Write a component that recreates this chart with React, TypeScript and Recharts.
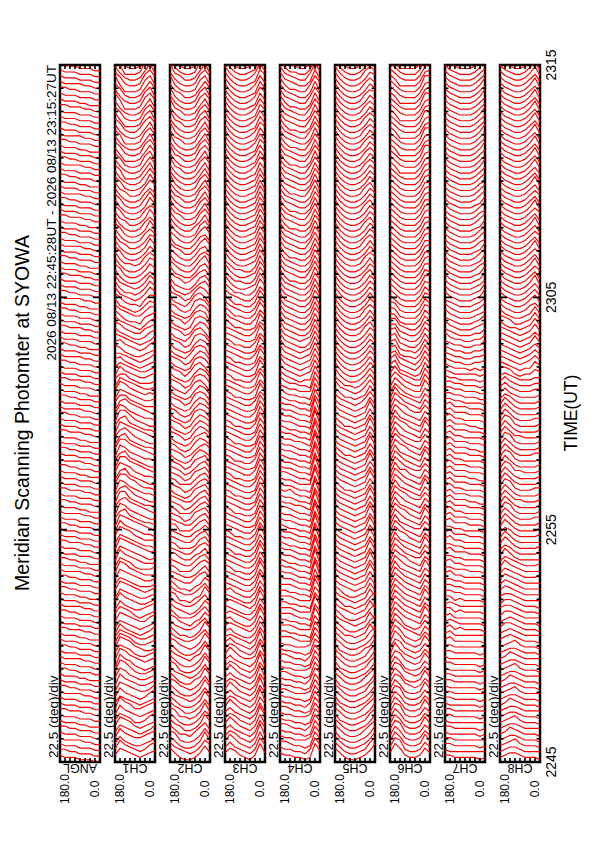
import React from 'react';
import { LineChart, Line, XAxis, YAxis, ReferenceArea } from 'recharts';

// ---------- texts ----------
const TITLE = 'Meridian Scanning Photomter at SYOWA';
const PERIOD = '2026 08/13 22:45:28UT - 2026 08/13 23:15:27UT';
const TIME_AXIS_TITLE = 'TIME(UT)';
const SCALE_LABEL = '22.5 (deg)/div';
const CHANNELS = ['ANGL', 'CH1', 'CH2', 'CH3', 'CH4', 'CH5', 'CH6', 'CH7', 'CH8'];
const ANGLE_LABELS = ['180.0', '0.0'];

// ---------- axes ----------
const TIME_LABELS = ['2245', '2255', '2305', '2315'];
const TIME_LABEL_MIN = [0, 10, 20, 30]; // minutes after 22:45
const TIME_MINOR_MIN = [1, 2, 3, 4, 5, 6, 7, 8, 9, 11, 12, 13, 14, 15, 16, 17, 18, 19, 21, 22, 23, 24, 25, 26, 27, 28, 29];
const TIME_MAJOR_MIN = [10, 20];
const ANGLE_TICKS = [22.5, 45, 67.5, 90, 112.5, 135, 157.5];
const SCAN_ANGLES = [180, 157.5, 135, 112.5, 90, 67.5, 45, 22.5, 0];
const SCAN_STEP_MIN = 0.25; // one scan every 15 s

// ---------- scans: each word = relative intensity at SCAN_ANGLES (180 -> 0), earliest first ----------
const SCANS_ANGL = `
322211100 332211100 322211100 322221100 322211100 332211100 322211000 322211100 332221100 322211100
322211100 322221100 332211100 322211100 322211000 332211100 322211100 322221100 322211100 332211100
322211100 322211000 332221100 322211100 322211100 332211100 322221100 322211100 322211000 332211100
322211100 332211100 322221100 322211100 332211000 322211100 322211100 332221100 322211100 322211100
332211100 322211100 322221100 322211000 332211100 322211100 332221100 322211100 322211100 322211000
332211100 322221100 322211100 332211100 322211100 322211000 332221100 322211100 322211100 332211100
322221100 322211100 332211100 322211000 322211100 332221100 322211100 322211100 332211100 322221100
322211100 332211000 322211100 322211100 332221100 322211100 322211100 332211100 322211000 322221100
332211100 322211100 322211100 332221100 322211100 322211000 332211100 322211100 322221100 322211100
332211100 322211100 322211000 332221100 322211100 322211100 332211100 322221100 322211100 322211000
332211100 322211100 322221100 332211100 322211100 322211000 332211100 322221100 322211100 332211100
322211100 322211100 332221100 322211000 322211100 332211100 322221100 322211100 322211100 332211100
`;

const SCANS_CH1 = `
365432345 375432356 364322345 375433456 365432346 376532345 365422356 375432345 386533456 365432345
375432356 376543346 386543345 487543345 498643345 397643234 498654345 587643345 498754334 487643345
476543345 375432346 365432345 376543356 476532345 375433456 486543345 376543345 487654345 476543334
487654334 498654333 487643334 497654333 487654323 498765433 487654332 598754333 497654332 498765432
589654332 498654322 589765432 499654332 589754322 498654332 599764332 489654322 598754332 499765432
589654322 498654332 599765432 489654332 589754322 498765432 589654332 499754322 598654332 489765432
588654333 487654334 598654343 487654334 577543334 486543345 576543345 675432345 665432346 764322345
675432356 765432346 754322356 764322456 754321356 753221456 754322466 743212465 753221466 743212475
742212475 743212475 742112465 752112475 742112476 742212575 752112475 742112485 743112476 742112575
752112485 742112575 743112485 752112576 742112485 752112585 742112575 743112586 752112485 742112585
751112584 742112585 752112684 741112585 752112685 742112584 751112685 742112584 752113685 741112684
752112685 742112584 851112685 742112684 752112585 841112684 752112685 742112584 851112685 742112684
`;

const SCANS_CH2 = `
642112474 643212475 642112484 652112474 642213574 643112485 642112475 652212484 643112474 642112485
643212474 642112485 653212474 642113485 643212474 652112485 642112474 643213485 642112474 653212485
643223574 642212485 643223574 653213475 642223574 643212475 643223574 652213485 643223574 642213475
543224674 543223574 542224675 543224674 553224574 543224675 542223674 543224674 543224575 552224674
543224674 543125674 542224675 543124674 543224674 532125674 543124675 542224674 543125674 543124674
543125674 532125764 543124675 542125764 532125674 543125764 532125764 543125764 532126763 542125764
532125763 543126763 532125763 532136752 543126763 532125763 543136752 532126763 543125763 532136762
532125763 543126763 532136752 543125763 532126763 543136762 532125763 542126763 532136752 543125763
632124674 632113674 643124674 632113674 642113684 632113675 642113674 643113685 632113674 642113685
742112685 742113584 742112685 743112584 742112685 742112584 743112685 742112584 842112685 742112584
742112584 843112685 742112584 843112685 742112685 842112584 743112685 842112584 742112685 843112684
742112685 843112584 742112685 842112684 743112585 842112684 742112685 843112584 742112685 842112684
`;

const SCANS_CH3 = `
465321384 464321385 475321384 465321394 464321385 475321384 465321395 464321384 475321385 465321394
464321385 475321394 465321385 464321394 475321385 465321394 464321385 475322394 465321385 464321394
454321385 453211385 454321385 453211395 454321385 543211385 454321395 543211385 453211385 543211395
543211385 543211395 542211385 543211385 543211395 542211385 543211385 543211395 542211385 543211385
543211285 543211385 542211285 543211385 543211285 542211385 543211285 543211385 542211285 543211385
543211285 542211385 543211285 543211385 542211285 543211385 543211285 542211385 543211285 543211385
543211285 543211375 542211285 543211375 543211285 542211375 543211285 543211375 542211285 543211375
543211285 542211375 543211285 543211375 642211285 643211375 642211385 643211375 642211385 643211375
642211385 742112385 642211385 742112385 642211384 742112385 742112384 742112385 742112384 742112385
742112385 742112384 742112385 742112384 742112385 742112384 742112385 742112384 742112385 742112384
742112385 742112486 742112385 742112485 742112386 742112485 742112385 742112486 742112385 742112485
742112386 742112485 742112385 742112486 742112385 742112485 742112386 742112485 742112385 742112486
`;

const SCANS_CH4 = `
433221285 433221385 443221285 433222385 433221285 443221385 433221286 433222385 443221285 433221385
433221285 443222385 433221285 433221386 443221285 433222385 433221285 443221385 433221286 433222385
444322285 443322185 444322285 443322195 444322185 444322295 443322185 444322285 443322195 444322185
544322183 544322193 544322183 543322193 544322183 544322193 543322183 544322193 544322183 543322193
544322183 544322193 554322183 544332193 544322183 545322193 544322183 544322293 554322183 544322193
544322183 543322193 544322183 544322193 544332183 544322193 543322183 544322193 544322183 544322193
544322184 543322184 643322184 543322284 643322184 643212284 643212384 743212384 643212384 743212384
743212384 743211384 743212384 743211384 743211384 743211385 743211384 743211384 743211385 743211384
743211384 743211385 742211384 743211484 743211384 743211385 742211384 743211384 743211484 743211385
743211384 742211385 743211384 743211484 742211384 743211385 743211384 742211484 743211384 743211385
743211384 743211485 742211384 743211485 743211384 742211485 743211384 743211485 742211384 743211485
743211384 743211485 742211384 743211485 743211384 742211485 743211384 743211485 742211384 743211485
`;

const SCANS_CH5 = `
642112358 642112368 642112358 632112358 642112468 642112358 632112368 642112358 642112468 632112358
642112358 642112368 632112358 642112468 642112358 632112368 642112358 642112368 632112458 642112358
642112368 642212374 642112368 643212374 642112368 643212374 642212368 643212374 642112374 643212374
643212374 643212384 643212374 643212384 643212374 643212384 643212374 643212384 643212374 643212384
643212374 643212384 643212374 643212374 643212384 643212374 642212374 643212384 643212374 643212374
643212384 643212374 642212374 643212384 643212374 643212374 643212384 642212374 643212374 643212384
643212374 643212474 642212374 743212474 642212474 742112474 742112475 742112474 742112475 742112474
742112475 742112474 742112475 742112574 742112475 742112474 742112575 742112475 742112474 742112475
742112475 742112475 742112574 742112475 742112474 742112575 742112475 742112474 742112575 742112475
742112475 742112574 742112475 742112475 742112574 742112475 742112475 742112574 742112475 742112475
742112475 742112575 742112475 742112575 742112475 742112575 742112475 742112575 742112475 742112575
742112475 742112575 742112475 742112576 742112475 742112575 742112476 742112575 742112475 742112575
`;

const SCANS_CH6 = `
486322364 487322364 486322374 486322364 487322364 486322374 486322364 487322364 486322374 486322364
487322364 486322374 487432364 486322374 487432364 486322364 487432374 496432364 487432364 497432374
497432364 497543264 497432364 497543264 497543274 497543264 497543264 497543274 497543264 497543264
497543264 496543264 497543274 497643264 497543364 497543264 496543274 497643264 497543264 496543364
497543264 497643274 496543264 497543264 497643364 496543264 497543274 497543264 496643264 497543364
497543264 496543274 497643264 497543264 496543364 497543264 497643274 496543264 497543264 497643364
497543264 496543264 486432264 486432274 586432274 585432274 684321274 684321374 674321374 673221374
673221374 673211374 673211375 663211375 663211375 652111375 652111376 652111375 642111376 642111375
642111376 642111377 642111376 642111377 642111378 642111377 642111378 642111377 642111378 642111377
642111378 642111377 642111378 642111378 642111377 642111378 642111378 642111377 642111378 642111378
642111378 641111378 642111378 642111388 641111378 642111378 642111388 641111378 642111378 642111388
641111378 642111378 642111388 641111378 642111378 642111388 641111378 642111378 642111388 641111378
`;

const SCANS_CH7 = `
332222212 322222222 332222212 332222222 322222212 332222212 322222222 332222212 332222222 322222212
332222212 332222222 322222212 332222212 332222222 322222212 332222212 322222222 332222212 332222222
342222221 342222222 342322221 343222221 342222221 442322221 343222222 442322221 443322221 443322221
443322221 453322221 443332221 453322221 443322221 453332221 443322221 453322221 453332221 443322221
453332221 453332221 453322221 453332221 453332211 453332221 453322221 453332221 453332211 453332221
453332221 453322221 453332221 453332211 453332221 453322221 453332221 453332211 453322221 453332221
453332221 443322221 443322211 443322211 443322212 433222212 432222212 432221212 432211223 432211223
432211223 432211224 532211224 432111224 532111234 432111235 532111234 532111235 432111235 532111236
532111236 532111235 532111236 532111236 532111245 532111236 532111246 532111236 532111245 532111246
532111246 532111236 532111246 532111245 532111246 532111236 532111246 532111246 532111245 532111246
532111246 532111247 532111246 532111246 532111247 532111246 532111246 532111247 532111246 532111246
532111247 532111246 532111246 532111247 532111246 532111247 532111246 532111246 532111247 532111246
`;

const SCANS_CH8 = `
234432221 234432222 234532221 234432221 235432221 234432222 234532221 234432221 234432222 235432221
234432221 234532222 234432221 235432221 234432222 234532221 234432221 235432222 234432221 234532221
345432221 345432222 355432221 345432221 355432222 455432221 355432221 455432222 465432222 465432222
465432222 465432223 475432222 465432223 475322222 465322223 475322223 475322222 465322223 475322223
475322223 475322233 476322223 475322223 475332223 475322223 476322233 475322223 475322223 476332223
475322223 476322223 475322233 475322223 476322223 475332223 475322223 476322223 475322233 475322223
475322223 465322223 464322223 464322233 464322233 454322233 554212243 543212253 543212353 543212353
543212353 543212363 543212353 543212363 532212363 543112363 532112363 532112453 532112463 532112463
532112463 532112473 532112463 532112464 532112473 532112463 532112464 532112473 532112463 532112464
532112463 532112473 532112463 532112464 532112473 532112463 532112464 532112463 532112473 532112463
532112463 532112473 532112463 532112473 532112463 532112473 532112463 532112473 532112463 532112473
532112463 532112473 532112463 532112473 532112463 532112473 532112463 532112473 532112463 532112473
`;

const PANEL_SCANS = [SCANS_ANGL, SCANS_CH1, SCANS_CH2, SCANS_CH3, SCANS_CH4, SCANS_CH5, SCANS_CH6, SCANS_CH7, SCANS_CH8];

// ---------- layout / style ----------
const PAGE_W = 595;
const PAGE_H = 842;
const PANEL_LEFT0 = 60;
const PANEL_STEP = 55;
const PANEL_W = 40;
const PANEL_TOP = 65;
const PANEL_H = 697;
const PAD = 4;
const TIME_SPAN = 30;
const FONT = '"Liberation Sans", Arial, Helvetica, sans-serif';
const RED = '#ff0000';
const DEFLECTION_PX = 2.3; // pixels per intensity unit
const MIN_PER_PX = TIME_SPAN / PANEL_H;
const DEG_PER_PX = 180 / PANEL_W;

type Pt = { angle: number; v: number | null };

function parseScans(s: string): number[][] {
  return s
    .trim()
    .split(/\s+/)
    .map((w) => w.split('').map((c) => Number(c)));
}

function buildScanPoints(scans: number[][]): Pt[] {
  const pts: Pt[] = [];
  const k = DEFLECTION_PX * MIN_PER_PX;
  scans.forEach((row, i) => {
    const t = i * SCAN_STEP_MIN;
    SCAN_ANGLES.forEach((a, j) => pts.push({ angle: a, v: t + row[j] * k }));
    pts.push({ angle: 0, v: null });
  });
  return pts;
}

function buildFramePoints(): Pt[] {
  const pts: Pt[] = [];
  const seg = (a1: number, v1: number, a2: number, v2: number) => {
    pts.push({ angle: a1, v: v1 }, { angle: a2, v: v2 }, { angle: a2, v: null });
  };
  const tl = 4 * MIN_PER_PX;
  ANGLE_TICKS.forEach((a) => {
    seg(a, 0, a, tl);
    seg(a, TIME_SPAN, a, TIME_SPAN - tl);
  });
  const side = (m: number, px: number) => {
    const len = px * DEG_PER_PX;
    seg(180, m, 180 - len, m);
    seg(0, m, len, m);
  };
  TIME_MINOR_MIN.forEach((m) => side(m, 3.5));
  TIME_MAJOR_MIN.forEach((m) => side(m, 7));
  return pts;
}

const FRAME_POINTS = buildFramePoints();

function Panel({ index }: { index: number }) {
  const data = buildScanPoints(parseScans(PANEL_SCANS[index]));
  const left = PANEL_LEFT0 + PANEL_STEP * index;
  return (
    <div style={{ position: 'absolute', left: left - PAD, top: PANEL_TOP - PAD }}>
      <LineChart
        width={PANEL_W + 2 * PAD}
        height={PANEL_H + 2 * PAD}
        margin={{ top: PAD, right: PAD, bottom: PAD, left: PAD }}
      >
        <XAxis type="number" dataKey="angle" domain={[0, 180]} reversed hide allowDataOverflow />
        <YAxis type="number" domain={[0, TIME_SPAN]} hide allowDataOverflow />
        <Line
          data={data}
          dataKey="v"
          stroke={RED}
          strokeWidth={1.15}
          dot={false}
          activeDot={false}
          isAnimationActive={false}
          connectNulls={false}
        />
        <Line
          data={FRAME_POINTS}
          dataKey="v"
          stroke="#000"
          strokeWidth={1.6}
          dot={false}
          activeDot={false}
          isAnimationActive={false}
          connectNulls={false}
        />
        <ReferenceArea x1={0} x2={180} y1={0} y2={TIME_SPAN} fill="none" stroke="#000" strokeWidth={2.5} />
      </LineChart>
    </div>
  );
}

function RotText({
  x,
  y,
  size,
  anchor = 'middle',
  rot = -90,
  children,
}: {
  x: number;
  y: number;
  size: number;
  anchor?: 'start' | 'middle' | 'end';
  rot?: number;
  children: React.ReactNode;
}) {
  return (
    <text
      x={x}
      y={y}
      transform={`rotate(${rot} ${x} ${y})`}
      textAnchor={anchor}
      dominantBaseline="central"
      fontFamily={FONT}
      fontSize={size}
      fill="#000"
    >
      {children}
    </text>
  );
}

export default function App() {
  const timeY = (m: number) => PANEL_TOP + PANEL_H - (m / TIME_SPAN) * PANEL_H;
  return (
    <div style={{ position: 'absolute', left: 0, top: 0, width: PAGE_W, height: PAGE_H, background: '#fff', overflow: 'hidden' }}>
      {CHANNELS.map((c, i) => (
        <Panel key={c} index={i} />
      ))}
      <svg width={PAGE_W} height={PAGE_H} style={{ position: 'absolute', left: 0, top: 0, pointerEvents: 'none' }}>
        <RotText x={22} y={413} size={19.5}>{TITLE}</RotText>
        <RotText x={51} y={PANEL_TOP} size={13.5} anchor="end">{PERIOD}</RotText>
        {CHANNELS.map((c, i) => {
          const left = PANEL_LEFT0 + PANEL_STEP * i;
          return (
            <g key={c}>
              <RotText x={left - 7} y={PANEL_TOP + PANEL_H - 4} size={13.5} anchor="start">{SCALE_LABEL}</RotText>
              <RotText x={left + PANEL_W / 2} y={768} size={12.5} rot={180}>{c}</RotText>
              <RotText x={left + 5} y={789} size={12}>{ANGLE_LABELS[0]}</RotText>
              <RotText x={left + PANEL_W - 5} y={789} size={12}>{ANGLE_LABELS[1]}</RotText>
            </g>
          );
        })}
        {TIME_LABELS.map((t, i) => (
          <RotText key={t} x={551} y={timeY(TIME_LABEL_MIN[i])} size={14}>{t}</RotText>
        ))}
        <RotText x={571} y={413} size={17.5}>{TIME_AXIS_TITLE}</RotText>
      </svg>
    </div>
  );
}
